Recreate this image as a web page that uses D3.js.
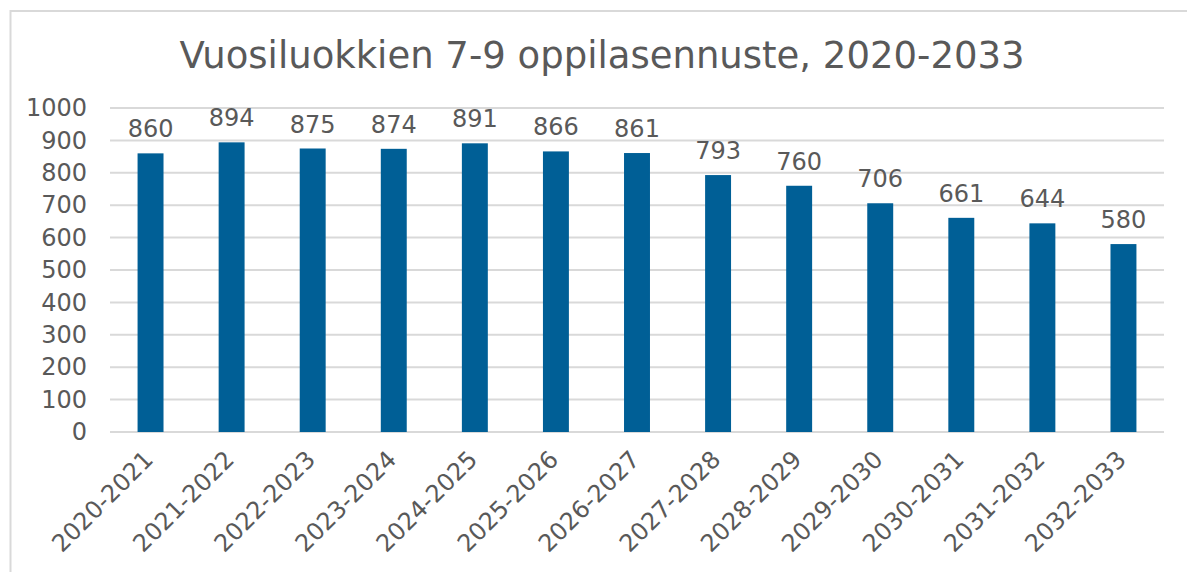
<!DOCTYPE html>
<html>
<head>
<meta charset="utf-8">
<script src="https://cdn.jsdelivr.net/npm/d3@7"></script>
<style>
  body { margin: 0; background: #fff; }
  text { font-family: "DejaVu Sans", Verdana, sans-serif; fill: #595959; }
</style>
</head>
<body>
<div id="chart"></div>
<script>
// Data
const years = ["2020-2021", "2021-2022", "2022-2023", "2023-2024", "2024-2025", "2025-2026",
    "2026-2027", "2027-2028", "2028-2029", "2029-2030", "2030-2031", "2031-2032", "2032-2033"];
const pupils = [860, 894, 875, 874, 891, 866, 861, 793, 760, 706, 661, 644, 580];
const yTicks = [0, 100, 200, 300, 400, 500, 600, 700, 800, 900, 1000];

const W = 1187, H = 572;
const margin = { top: 108, right: 23, bottom: 140, left: 110 };
const width = W - margin.left - margin.right;
const height = H - margin.top - margin.bottom;

const svg = d3.select("#chart").append("svg")
    .attr("width", W)
    .attr("height", H);

// chart frame
svg.append("rect")
    .attr("x", 10.5).attr("y", 11)
    .attr("width", W).attr("height", H)
    .attr("fill", "none")
    .attr("stroke", "#d9d9d9")
    .attr("stroke-width", 2);

// Title
svg.append("text")
    .attr("x", 602)
    .attr("y", 68)
    .attr("text-anchor", "middle")
    .attr("font-size", "37px")
    .text("Vuosiluokkien 7-9 oppilasennuste, 2020-2033");

const g = svg.append("g")
    .attr("transform", "translate(" + margin.left + "," + margin.top + ")");

const x = d3.scaleBand()
    .domain(years)
    .range([0, width])
    .paddingInner(0.68)
    .paddingOuter(0.34);

const y = d3.scaleLinear()
    .domain([0, 1000])
    .range([height, 0]);

// gridlines
g.selectAll(".grid")
    .data(yTicks)
  .enter().append("line")
    .attr("class", "grid")
    .attr("x1", 0)
    .attr("x2", width)
    .attr("y1", d => y(d))
    .attr("y2", d => y(d))
    .attr("stroke", "#d9d9d9")
    .attr("stroke-width", 2);

// y axis
const yAxis = g.append("g")
    .call(d3.axisLeft(y).tickValues(yTicks).tickFormat(d3.format("d")).tickSize(0).tickPadding(23));
yAxis.select(".domain").remove();
yAxis.selectAll("text")
    .attr("font-size", "24px")
    .attr("fill", "#595959")
    .style("font-family", "'DejaVu Sans', Verdana, sans-serif");

// bars
g.selectAll(".bar")
    .data(pupils)
  .enter().append("rect")
    .attr("class", "bar")
    .attr("x", (d, i) => x(years[i]))
    .attr("y", d => y(d))
    .attr("width", x.bandwidth())
    .attr("height", d => height - y(d))
    .attr("fill", "#005f96");

// value labels
g.selectAll(".label")
    .data(pupils)
  .enter().append("text")
    .attr("class", "label")
    .attr("x", (d, i) => x(years[i]) + x.bandwidth() / 2)
    .attr("y", d => y(d) - 16)
    .attr("text-anchor", "middle")
    .attr("font-size", "24px")
    .text(d => d);

// x axis
const xAxis = g.append("g")
    .attr("transform", "translate(0," + height + ")")
    .call(d3.axisBottom(x).tickSize(0).tickPadding(0));
xAxis.select(".domain").remove();
xAxis.selectAll("text")
    .attr("font-size", "24px")
    .attr("fill", "#595959")
    .style("font-family", "'DejaVu Sans', Verdana, sans-serif")
    .attr("text-anchor", "end")
    .attr("dy", "0")
    .attr("transform", "translate(4,29) rotate(-45)");
</script>
</body>
</html>
